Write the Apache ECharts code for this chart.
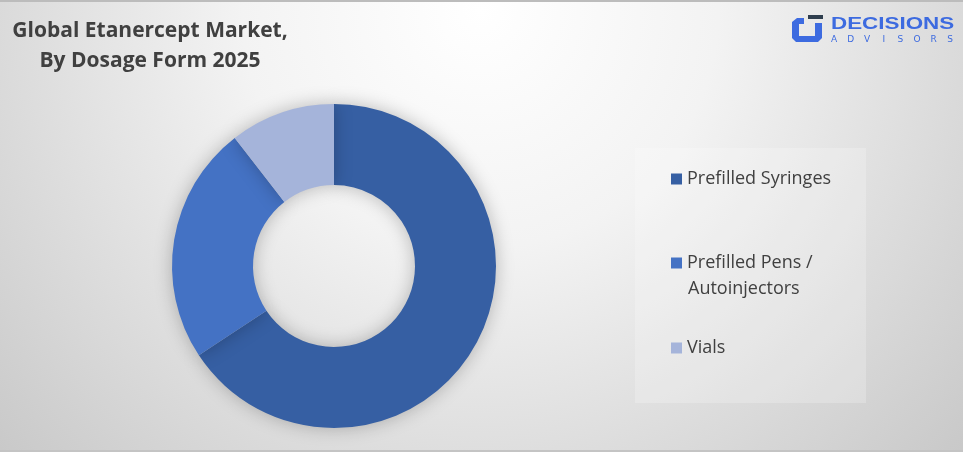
<!DOCTYPE html>
<html>
<head>
<meta charset="utf-8">
<script src="https://cdn.jsdelivr.net/npm/echarts@6/dist/echarts.min.js"></script>
<style>
html,body{margin:0;padding:0;}
#chart{width:963px;height:452px;}
</style>
</head>
<body>
<div id="chart"></div>
<script>
const titleLines = ["Global Etanercept Market,", "By Dosage Form 2025"];
const categories = ["Prefilled Syringes", "Prefilled Pens / Autoinjectors", "Vials"];
const shares = [65.7, 23.8, 10.5];
const colors = ["#365FA3", "#4472C4", "#A5B4DA"];
const legendLabels = ["Prefilled Syringes", "Prefilled Pens /", "Vials"];
const legendWrap = "Autoinjectors";
const logoWord = "DECISIONS";
const logoSub = "ADVISORS";

const chart = echarts.init(document.getElementById('chart'), null, {renderer: 'canvas'});

const legendTops = [166, 250, 335];

const legends = categories.map((c, i) => ({
  orient: 'vertical',
  left: 671,
  top: legendTops[i],
  padding: 0,
  itemWidth: 11,
  itemHeight: 11,
  icon: 'rect',
  data: [c],
  formatter: () => legendLabels[i],
  selectedMode: false,
  textStyle: {
    color: '#404040',
    fontSize: 18,
    fontFamily: 'Open Sans',
    lineHeight: 26
  }
}));

const subLetters = logoSub.split('').map((ch, i) => ({
  type: 'text', x: 834 + i * 16.6, y: 40,
  style: {text: ch, fill: '#3d6be0', font: '9px "DejaVu Sans"', textAlign: 'center', textVerticalAlign: 'middle'}
}));

const option = {
  backgroundColor: {
    type: 'radial', x: 480, y: 10, r: 680, global: true,
    colorStops: [{offset: 0, color: '#ffffff'}, {offset: 0.35, color: '#f3f3f3'}, {offset: 1, color: '#c6c6c6'}]
  },
  color: colors,
  legend: legends,
  graphic: [
    {type: 'rect', shape: {x: 0, y: 0, width: 963, height: 2}, style: {fill: '#bcbcbc'}, silent: true},
    {type: 'rect', shape: {x: 0, y: 450, width: 963, height: 2}, style: {fill: '#c4c4c4'}, silent: true},
    {type: 'rect', shape: {x: 635, y: 148, width: 231, height: 255}, style: {fill: 'rgba(255,255,255,0.22)'}, silent: true, z: -1},
    {type: 'text', x: 150, y: 31, style: {text: titleLines[0], fill: '#404040', font: 'bold 21px "Open Sans"', textAlign: 'center', textVerticalAlign: 'middle'}},
    {type: 'text', x: 150, y: 61, style: {text: titleLines[1], fill: '#404040', font: 'bold 21px "Open Sans"', textAlign: 'center', textVerticalAlign: 'middle'}},
    {type: 'text', x: 688, y: 289, style: {text: legendWrap, fill: '#404040', font: '18px "Open Sans"', textVerticalAlign: 'middle'}},
    // logo icon
    {type: 'polygon', shape: {points: [[804,18],[797,18],[792,22],[792,38],[796,42],[818,42],[822,38],[822,23],[815,23],[815,36],[799,36],[799,24],[804,24]]}, style: {fill: '#3d6be0'}},
    {type: 'rect', shape: {x: 808, y: 15, width: 15, height: 4}, style: {fill: '#2f3e4e'}},
    {type: 'text', x: 831, y: 24.5, scaleX: 1.4, style: {text: logoWord, fill: '#3d6be0', font: 'bold 16px "Liberation Sans"', textVerticalAlign: 'middle'}}
  ].concat(subLetters),
  series: [{
    type: 'pie',
    center: [334, 266],
    radius: [81, 162],
    startAngle: 90,
    clockwise: true,
    label: {show: false},
    labelLine: {show: false},
    silent: true,
    itemStyle: {
      shadowBlur: 18,
      shadowColor: 'rgba(0,0,0,0.25)',
      borderWidth: 0
    },
    data: categories.map((c, i) => ({name: c, value: shares[i]}))
  }]
};
chart.setOption(option);
</script>
</body>
</html>
